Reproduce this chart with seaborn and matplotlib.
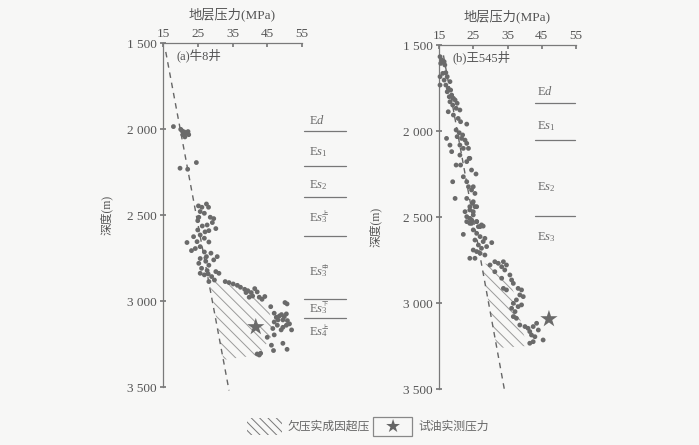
import matplotlib
matplotlib.use("Agg")
import matplotlib.pyplot as plt
import seaborn as sns
import pandas as pd
from matplotlib.patches import Polygon, Rectangle

sns.set_theme(style="white")
plt.rcParams['font.family'] = ['Liberation Serif', 'Noto Sans CJK SC', 'DejaVu Sans']
plt.rcParams['mathtext.fontset'] = 'custom'
plt.rcParams['mathtext.rm'] = 'Liberation Serif'
plt.rcParams['mathtext.it'] = 'Liberation Serif:italic'
plt.rcParams['hatch.linewidth'] = 0.7

# ---------------- data ----------------
x_ticks = [15, 25, 35, 45, 55]
y_ticks = [1500, 2000, 2500, 3000, 3500]
y_tick_labels = ["1 500", "2 000", "2 500", "3 000", "3 500"]

# panel (a) 牛8井
a_pressure = [18.0, 20.1, 20.5, 21.1, 21.7, 22.2, 20.7, 21.3, 22.4, 19.9, 22.1, 24.6,
              25.2, 26.2, 27.5, 28.1, 25.7, 26.9, 25.3, 25.0, 28.6, 29.6, 29.2, 27.7, 26.3,
              25.0, 28.2, 27.1, 30.2, 25.7, 23.8, 26.9, 24.8, 21.9, 28.2, 25.7, 24.3, 23.2,
              26.9, 28.8, 27.5, 25.7, 25.3, 27.3, 29.6, 28.2, 30.6, 26.1, 27.7, 25.7, 26.9,
              28.0, 29.0, 30.2, 31.1, 29.8, 28.2,
              32.9, 34.0, 35.2, 36.4, 37.3, 38.5, 39.4, 40.4, 41.4, 40.8, 42.1, 42.7, 43.5,
              44.3, 39.8, 38.9,
              50.1, 50.7, 46.0, 47.0, 47.6, 48.1, 48.5, 49.1, 49.5, 49.9, 50.5, 50.8, 50.5,
              49.5, 47.9, 47.0, 46.6, 51.4, 52.0, 49.0, 47.0, 45.0, 46.2, 46.8, 49.5, 50.7,
              42.1, 43.1, 42.7]
a_depth = [1986, 2002, 2011, 2017, 2025, 2015, 2033, 2046, 2033, 2228, 2234, 2195,
           2447, 2455, 2436, 2455, 2480, 2490, 2513, 2533, 2513, 2521, 2544, 2558, 2564,
           2587, 2591, 2598, 2579, 2616, 2626, 2635, 2655, 2660, 2657, 2684, 2695, 2707,
           2715, 2722, 2742, 2753, 2781, 2769, 2761, 2792, 2742, 2810, 2823, 2839, 2848,
           2843, 2858, 2829, 2839, 2878, 2887,
           2887, 2893, 2901, 2909, 2920, 2932, 2940, 2951, 2928, 2971, 2947, 2978, 2990,
           2974, 2978, 2951,
           3009, 3017, 3033, 3071, 3095, 3110, 3087, 3079, 3110, 3091, 3075, 3114, 3141,
           3153, 3141, 3122, 3160, 3133, 3168, 3168, 3197, 3211, 3257, 3288, 3246, 3281,
           3308, 3304, 3314]
a_hydro_p = [15.8, 34.0]
a_hydro_d = [1552, 3520]
a_hatch_p = [28.3, 32.4, 42.5, 46.9, 45.1, 38.8, 33.5]
a_hatch_d = [2866, 3342, 3314, 3186, 3012, 2948, 2890]
a_test_p = [41.7]
a_test_d = [3151]
a_strat_base = ["E$d$", "E$s_1$", "E$s_2$", "E$s_3$", "E$s_3$", "E$s_3$", "E$s_4$"]
a_strat_sup = ["", "", "", "上", "中", "下", "上"]
a_strat_text_d = [1948, 2134, 2326, 2517, 2831, 3047, 3180]
a_strat_line_d = [2012, 2215, 2395, 2622, 2988, 3099]

# panel (b) 王545井
b_pressure = [15.3, 15.8, 16.5, 15.5, 16.7, 16.1, 17.0, 17.4, 15.3, 16.5, 18.2, 17.0, 15.3,
              17.7, 18.4, 17.4, 18.7, 18.0, 19.2, 18.2, 19.7, 20.3, 19.0, 20.0, 17.7, 21.1,
              19.2, 20.6, 21.3, 23.1, 20.0, 20.9, 20.3, 21.9, 21.6, 22.6, 17.2, 18.2, 21.1,
              23.1, 22.1, 18.7, 23.6, 21.1, 23.8, 23.1, 24.0, 20.0, 21.3, 24.5, 25.8, 22.1,
              19.0, 23.1, 23.6, 25.0, 24.5, 19.7, 23.1, 25.5, 24.8, 24.0, 25.5, 22.6, 25.0,
              23.1, 24.5, 26.0, 24.0, 27.0, 27.9,
              25.0, 24.0, 26.0, 23.1, 25.0, 24.5, 24.0, 26.0, 26.5, 27.4, 25.0, 22.1, 26.0,
              27.0, 25.5, 28.4, 27.9, 30.4, 26.5, 25.0, 26.0, 27.4, 28.9, 27.0, 28.4, 24.0,
              25.5, 31.3, 32.3, 33.8, 34.7, 29.9, 33.3, 34.2, 31.3, 35.7, 33.3, 36.2, 36.7,
              38.1, 39.1, 33.8, 34.7, 38.6, 39.6, 37.6, 36.7, 36.2, 38.1, 39.1, 37.2, 36.7,
              37.6, 38.6, 40.1, 41.0, 42.5, 41.5, 42.0, 43.0, 42.5, 41.5, 43.5, 44.0, 45.4]
b_depth = [1568, 1587, 1597, 1607, 1616, 1665, 1661, 1684, 1684, 1704, 1713, 1733, 1733,
           1752, 1762, 1772, 1791, 1801, 1810, 1830, 1820, 1839, 1849, 1868, 1888, 1878,
           1907, 1927, 1946, 1960, 1994, 2010, 2033, 2023, 2043, 2053, 2043, 2082, 2082,
           2072, 2101, 2120, 2101, 2140, 2159, 2178, 2159, 2198, 2198, 2227, 2250, 2266,
           2295, 2295, 2324, 2324, 2343, 2392, 2392, 2363, 2421, 2440, 2440, 2469, 2469,
           2527, 2537, 2527, 2508, 2556, 2553,
           2411, 2459, 2440, 2498, 2488, 2517, 2537, 2527, 2556, 2546, 2575, 2601, 2595,
           2614, 2634, 2624, 2643, 2649, 2663, 2692, 2701, 2682, 2672, 2711, 2721, 2740,
           2740, 2760, 2769, 2760, 2779, 2779, 2789, 2808, 2818, 2837, 2856, 2866, 2886,
           2915, 2924, 2915, 2924, 2953, 2963, 2982, 3002, 3031, 3021, 3011, 3050, 3079,
           3089, 3128, 3137, 3147, 3137, 3166, 3186, 3196, 3225, 3234, 3118, 3157, 3215]
b_hydro_p = [16.3, 34.2]
b_hydro_d = [1560, 3515]
b_hatch_p = [27.4, 31.9, 40.7, 39.2, 37.7, 35.1, 32.2]
b_hatch_d = [2769, 3262, 3250, 3145, 2983, 2849, 2779]
b_test_p = [47.1]
b_test_d = [3093]
b_strat_base = ["E$d$", "E$s_1$", "E$s_2$", "E$s_3$"]
b_strat_sup = ["", "", "", ""]
b_strat_text_d = [1773, 1971, 2326, 2616]
b_strat_line_d = [1837, 2052, 2494]

panel_titles = ["(a)牛8井", "(b)王545井"]
x_label = "地层压力(MPa)"
y_label = "深度(m)"
legend_labels = ["欠压实成因超压", "试油实测压力"]

# ---------------- style ----------------
BG = "#f7f7f6"
TXT = "#555555"
AX = "#7a7a7a"
PT = "#6a6a6a"
HATCH = "#9a9a9a"

fig = plt.figure(figsize=(6.99, 4.45), dpi=100, facecolor=BG)


def draw_panel(rect, pres, dep, hp, hd, hatp, hatd, tp, td, sbase, ssup, std, sld,
               title, strat_x, line_x, ylab_x, ylab_y):
    ax = fig.add_axes(rect)
    ax.set_facecolor("none")
    poly = Polygon(list(zip(hatp, hatd)), closed=True, facecolor="none",
                   edgecolor=HATCH, linewidth=0, hatch="\\" * 3, zorder=1)
    ax.add_patch(poly)
    ax.plot(hp, hd, linestyle=(0, (4, 3.5)), color="#666666", lw=1.0, zorder=2, clip_on=False)
    df = pd.DataFrame({"p": pres, "d": dep})
    sns.scatterplot(data=df, x="p", y="d", ax=ax, color=PT, s=12, edgecolor="none",
                    zorder=3, clip_on=False, legend=False)
    dft = pd.DataFrame({"p": tp, "d": td})
    sns.scatterplot(data=dft, x="p", y="d", ax=ax, color="#6a6a6a", marker="*", s=170,
                    edgecolor="none", zorder=4, clip_on=False, legend=False)
    ax.set_xlim(15, 55)
    ax.set_ylim(3500, 1500)
    ax.set_xticks(x_ticks)
    ax.set_yticks(y_ticks)
    ax.set_yticklabels(y_tick_labels)
    ax.xaxis.tick_top()
    ax.xaxis.set_label_position("top")
    ax.set_xlabel(x_label, fontsize=9.5, color=TXT, labelpad=7)
    ax.set_ylabel(y_label, fontsize=8.5, color=TXT)
    ax.yaxis.set_label_coords(ylab_x, ylab_y)
    for s in ["right", "bottom"]:
        ax.spines[s].set_visible(False)
    for s in ["top", "left"]:
        ax.spines[s].set_color(AX)
        ax.spines[s].set_linewidth(0.9)
    ax.tick_params(axis="x", top=True, bottom=False, direction="in", length=3,
                   color=AX, labelsize=9.5, labelcolor=TXT, pad=2)
    ax.tick_params(axis="y", left=True, direction="inout", length=5, color=AX,
                   labelsize=9.5, labelcolor=TXT, pad=2)
    ax.text(18.8, 1575, title, fontsize=9, color=TXT, ha="left", va="center")
    for dpth in sld:
        ax.plot(line_x, [dpth, dpth], color="#777777", lw=0.9, clip_on=False)
    for b, sp, dpth in zip(sbase, ssup, std):
        ax.text(strat_x, dpth, b, fontsize=9, color="#6a6a6a", ha="left", va="center",
                clip_on=False)
        if sp:
            ax.annotate(sp, xy=(strat_x, dpth), xytext=(8.8, 3.2), textcoords="offset points",
                        fontsize=4.5, color="#6a6a6a", ha="left", va="center",
                        annotation_clip=False)
    return ax


ax_a = draw_panel([163 / 699, 1 - 387 / 445, 139 / 699, 344 / 445],
                  a_pressure, a_depth, a_hydro_p, a_hydro_d, a_hatch_p, a_hatch_d,
                  a_test_p, a_test_d, a_strat_base, a_strat_sup,
                  a_strat_text_d, a_strat_line_d, panel_titles[0],
                  57.0, [55.6, 67.8], -0.36, 0.5)
ax_b = draw_panel([439 / 699, 1 - 389 / 445, 137 / 699, 344 / 445],
                  b_pressure, b_depth, b_hydro_p, b_hydro_d, b_hatch_p, b_hatch_d,
                  b_test_p, b_test_d, b_strat_base, b_strat_sup,
                  b_strat_text_d, b_strat_line_d, panel_titles[1],
                  43.6, [43.0, 54.7], -0.42, 0.47)

# legend (figure coords)
fig.patches.append(Rectangle((247 / 699, 1 - 435 / 445), 35 / 699, 17 / 445,
                             transform=fig.transFigure, facecolor="none",
                             edgecolor="#777777", linewidth=0, hatch="\\" * 4))
fig.text(288 / 699, 1 - 427 / 445, legend_labels[0], fontsize=8.5, color="#666666",
         ha="left", va="center")
fig.patches.append(Rectangle((373 / 699, 1 - 436 / 445), 39 / 699, 19 / 445,
                             transform=fig.transFigure, facecolor="none",
                             edgecolor="#888888", linewidth=0.9))
fig.text(393 / 699, 1 - 427 / 445, "★", fontsize=13, color="#666666", ha="center",
         va="center", family=["DejaVu Sans"])
fig.text(418 / 699, 1 - 427 / 445, legend_labels[1], fontsize=8.5, color="#666666",
         ha="left", va="center")

fig.savefig("out.png", dpi=100, facecolor=BG)
